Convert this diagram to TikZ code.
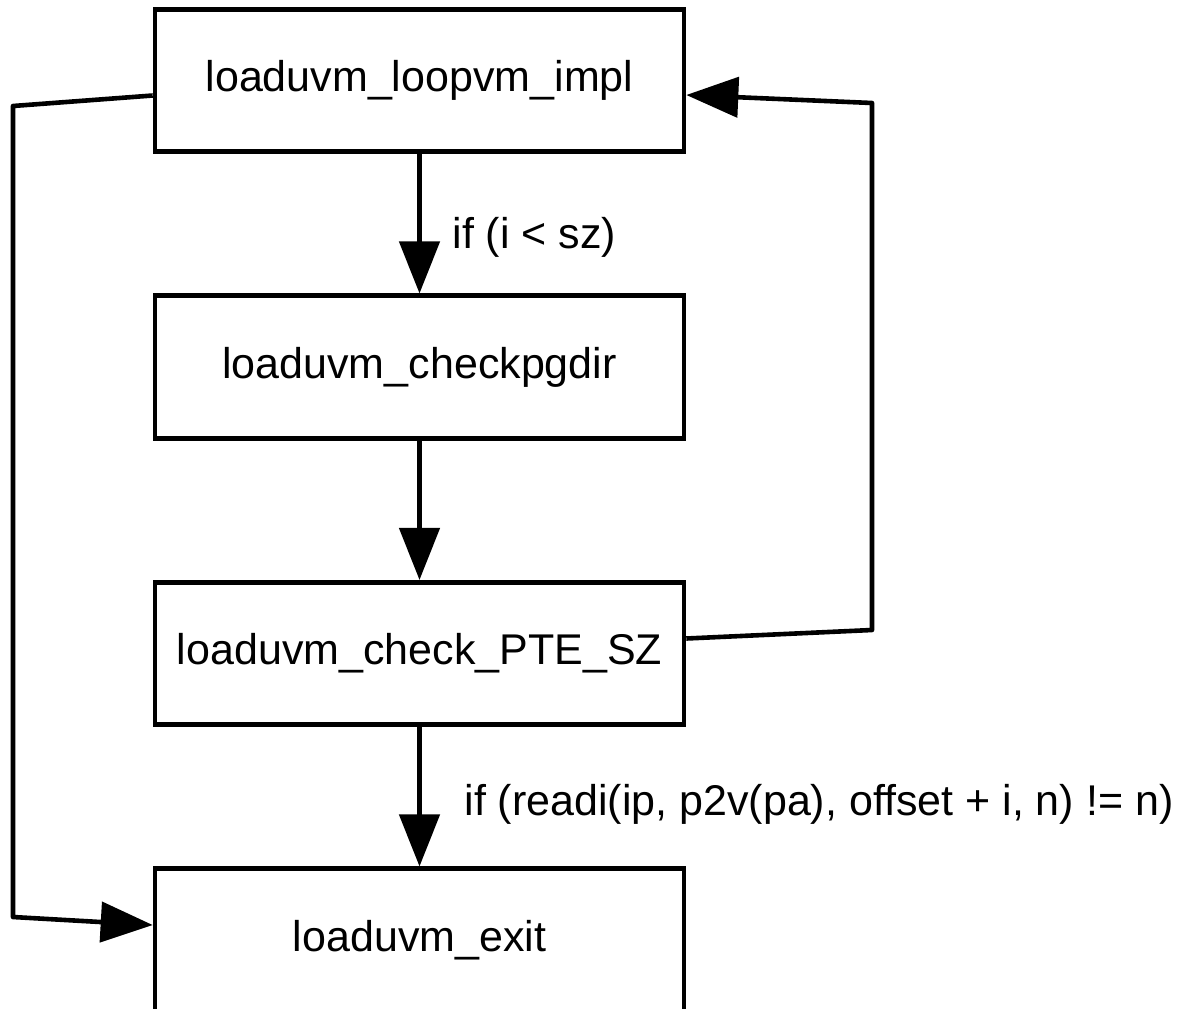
\documentclass[tikz,border=0pt]{standalone}
\usepackage{fontspec}
\setmainfont{Liberation Sans}
\usetikzlibrary{positioning,arrows.meta}

\tikzset{
  block/.style={draw, line width=2.3pt, minimum width=264.5pt, minimum height=71.25pt},
  flow/.style={line width=2.3pt, -{Triangle[length=26pt,width=20pt]}}
}

\begin{document}
\begin{tikzpicture}[font=\fontsize{21.5pt}{26pt}\selectfont, node distance=69.7pt]
            \useasboundingbox (0,0) rectangle (589.5pt,-504pt);
            \node[block] (loop) at (209.75pt,-40.25pt) {loaduvm\_loopvm\_impl};
            \node[block, below=of loop] (pgdir) {loaduvm\_checkpgdir};
            \node[block, below=of pgdir] (pte) {loaduvm\_check\_PTE\_SZ};
            \node[block, below=of pte] (exit) {loaduvm\_exit};
            % bends of the two side lines
            \coordinate (lefttop) at (6.5pt,-53pt);
            \coordinate (leftbot) at (6.5pt,-458.5pt);
            \coordinate (rightbot) at (436pt,-315pt);
            \coordinate (righttop) at (436pt,-51.5pt);
            \draw[flow] (loop) -- node[right, xshift=12pt, yshift=-7pt] {if (i < sz)} (pgdir);
            \draw[flow] (pgdir) -- (pte);
            \draw[flow] (pte) -- node[right, xshift=18pt, yshift=-4pt] {if (readi(ip, p2v(pa), offset + i, n) != n)} (exit);
            \draw[flow, line join=round]
            ([yshift=-7.5pt]loop.west)
            -- (lefttop)
            -- (leftbot)
            -- ([yshift=7.5pt]exit.west)
            ;
            \draw[flow, line join=round]
            ([yshift=7.5pt]pte.east)
            -- (rightbot)
            -- (righttop)
            -- ([yshift=-7.25pt]loop.east)
            ;
          \end{tikzpicture}
\end{document}
